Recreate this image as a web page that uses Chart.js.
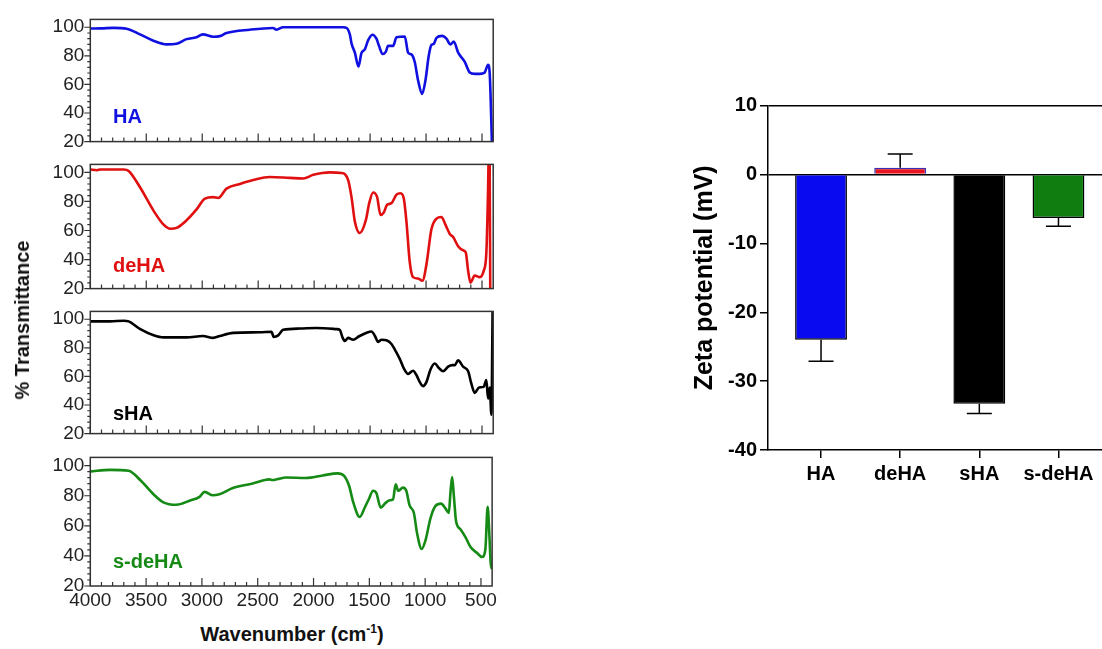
<!DOCTYPE html>
<html>
<head>
<meta charset="utf-8">
<script src="https://cdn.jsdelivr.net/npm/chart.js@4.4.1/dist/chart.umd.min.js"></script>
<style>
  body { margin: 0; background: #fff; }
  #page { position: relative; width: 1102px; height: 649px; overflow: hidden; font-family: "Liberation Sans", Arial, sans-serif; }
  canvas { position: absolute; }
  .lbl { position: absolute; font-weight: bold; line-height: 1; white-space: nowrap; }
</style>
</head>
<body>
<div id="page">
  <div class="lbl" style="left:113px; top:106px; font-size:20px; color:#1010e0">HA</div>
  <div class="lbl" style="left:113px; top:255px; font-size:20px; color:#e01010">deHA</div>
  <div class="lbl" style="left:113px; top:403px; font-size:20px; color:#000">sHA</div>
  <div class="lbl" style="left:113px; top:551px; font-size:20px; color:#158a15">s-deHA</div>
  <div class="lbl" style="left:22px; top:320px; font-size:20px; color:#111; transform:translate(-50%,-50%) rotate(-90deg)">% Transmittance</div>
  <div class="lbl" style="left:292px; top:623px; font-size:20px; color:#111; transform:translateX(-50%)">Wavenumber (cm<sup style="font-size:12px">-1</sup>)</div>
</div>
<script>
// FTIR spectra (wavenumber in cm-1, % transmittance)
const haWave = [4000, 3900, 3794, 3675, 3556, 3437, 3318, 3229, 3140, 3051, 2994, 2902, 2843, 2783, 2575, 2367, 2336, 2277, 2100, 1900, 1741, 1711, 1681, 1666, 1636, 1604, 1577, 1547, 1517, 1479, 1443, 1419, 1389, 1360, 1339, 1294, 1264, 1190, 1160, 1131, 1101, 1071, 1035, 1005, 976, 952, 931, 907, 857, 818, 782, 752, 714, 654, 610, 565, 520, 476, 446, 431, 410];
const haT = [99.1, 99.2, 99.6, 99, 95, 90.6, 88, 88.5, 91.7, 93, 95, 93.4, 93.8, 96, 98.3, 99.5, 98.3, 100, 100, 100, 100, 99.6, 95, 88.7, 82.2, 72.5, 82, 84.5, 91, 94.8, 92, 86.7, 81.3, 82.8, 87, 87, 93, 93.5, 82.2, 81, 75.7, 62.8, 53.4, 63, 80, 87.7, 88.4, 92.6, 94, 92, 88, 90, 82.4, 75.8, 68.4, 67.4, 67.4, 68.4, 73.7, 67.4, 15];

const deHaWave = [4000, 3940, 3911, 3702, 3657, 3553, 3434, 3345, 3285, 3229, 3140, 3051, 2976, 2902, 2857, 2783, 2664, 2545, 2396, 2218, 2098, 2008, 1860, 1756, 1696, 1666, 1636, 1592, 1538, 1508, 1473, 1437, 1407, 1378, 1348, 1309, 1264, 1229, 1199, 1175, 1146, 1116, 1071, 1032, 997, 952, 907, 862, 827, 788, 758, 714, 669, 645, 624, 603, 565, 520, 485, 461, 446, 440, 432, 426];
const deHaT = [102, 101.5, 102, 102, 101, 89.4, 73.5, 64, 61.2, 61.8, 67, 74.5, 82, 83, 82.4, 88.8, 92, 94.7, 96.8, 96.2, 95.8, 98.3, 100, 99.6, 94.7, 83, 66.1, 58.3, 67.1, 78.8, 86.2, 83, 70.7, 72.4, 77.7, 78.8, 84.7, 85.6, 82, 66, 38.5, 27.9, 26.9, 25.4, 36.4, 60.8, 68.2, 69.3, 64, 57.6, 55.5, 49.2, 46.4, 44.9, 32.2, 24.1, 29, 27.9, 32.2, 44.9, 87.3, 112, 112, 10];

const sHaWave = [4000, 3822, 3702, 3657, 3553, 3434, 3345, 3140, 2994, 2902, 2843, 2723, 2485, 2381, 2361, 2321, 2277, 2128, 1980, 1800, 1770, 1747, 1726, 1696, 1651, 1598, 1526, 1488, 1458, 1428, 1398, 1354, 1309, 1279, 1235, 1199, 1160, 1116, 1086, 1056, 1027, 997, 961, 922, 883, 848, 803, 764, 743, 714, 669, 624, 595, 565, 526, 485, 461, 446, 431, 416, 405];
const sHaT = [98.5, 98.5, 99, 98.5, 93.1, 88.8, 87.3, 87.3, 88.3, 87, 88.3, 90.5, 90.9, 91.3, 87.6, 88.7, 92.6, 93.5, 93.9, 93.1, 92.5, 87.4, 84.8, 87, 85.7, 88.1, 90.7, 91.4, 88.5, 84.2, 85.7, 85.3, 82.7, 78.8, 72.3, 65.7, 61.8, 64, 61, 56, 53.2, 56, 64.7, 69, 65.7, 63.6, 66.8, 67.9, 67.9, 71.2, 66.8, 63.6, 54.9, 48.4, 52.3, 52.7, 57.5, 44.5, 52.3, 33.3, 110];

const sDeHaWave = [4000, 3822, 3657, 3553, 3434, 3345, 3229, 3110, 3021, 2976, 2902, 2843, 2723, 2545, 2396, 2367, 2321, 2247, 2068, 1919, 1785, 1726, 1681, 1645, 1586, 1538, 1503, 1467, 1437, 1398, 1360, 1324, 1288, 1264, 1241, 1199, 1169, 1140, 1101, 1071, 1032, 997, 952, 907, 857, 818, 788, 773, 758, 743, 723, 684, 639, 595, 535, 490, 461, 440, 425, 413, 401];
const sDeHaT = [96.2, 97.2, 96.6, 90.5, 81, 75.6, 74, 76.7, 79.3, 82.6, 80.3, 81, 85.1, 88.1, 90.9, 90.5, 91.1, 92.1, 91.8, 93.5, 94.9, 93.2, 86.5, 75.9, 65.9, 72.7, 78, 83.3, 81.8, 72.1, 74.8, 76.9, 77.6, 87.6, 83.3, 85.4, 83.3, 73.8, 68.5, 54.6, 44.6, 50.3, 65.2, 73.3, 74.8, 71.6, 68.5, 82.3, 92.4, 80.1, 63.1, 57.8, 52.5, 46.1, 41.9, 39.3, 44, 72.7, 54.6, 35.4, 31.2];

// tick labels
const waveTicks = [4000, 3500, 3000, 2500, 2000, 1500, 1000, 500];
const transTicks = [20, 40, 60, 80, 100];

// Zeta potential (mV)
const samples = ['HA', 'deHA', 'sHA', 's-deHA'];
const zeta = [-24.0, 1.0, -33.3, -6.3];
const zetaErr = [3.1, 2.0, 1.4, 1.2];
const zetaTicks = [10, 0, -10, -20, -30, -40];

Chart.defaults.font.family = '"Liberation Sans", Arial, sans-serif';
Chart.defaults.animation = false;

const page = document.getElementById('page');

function addCanvas(left, top, w, h) {
    const c = document.createElement('canvas');
    c.width = w;
    c.height = h;
    c.style.left = left + 'px';
    c.style.top = top + 'px';
    page.prepend(c);
    return c;
}

// box + inward x ticks + outward y ticks, like the original plot
const framePlugin = {
    id: 'frame',
    afterDraw(chart) {
        const { ctx, chartArea: a, scales: { x, y } } = chart;
        ctx.save();
        ctx.strokeStyle = '#333';
        ctx.lineWidth = 1.5;
        ctx.strokeRect(a.left, a.top, a.right - a.left, a.bottom - a.top);
        ctx.lineWidth = 1.2;
        ctx.beginPath();
        for (let v = 4000; v > x.min + 50; v -= 100) {
            const px = x.getPixelForValue(v);
            const len = v % 500 === 0 ? 8 : 4;
            ctx.moveTo(px, a.bottom);
            ctx.lineTo(px, a.bottom - len);
        }
        for (let v = 20; v <= 100; v += 4) {
            const py = y.getPixelForValue(v);
            const len = v % 20 === 0 ? 6 : 3;
            ctx.moveTo(a.left, py);
            ctx.lineTo(a.left - len, py);
        }
        ctx.stroke();
        ctx.restore();
    }
};

// panel boxes on the page
const panels = [
    { top: 14, h: 133 },
    { top: 159, h: 135 },
    { top: 306, h: 133 },
    { top: 452, h: 134 }
];

function makeSpectrum(i, wave, trans, color) {
    const p = panels[i];
    const last = i === panels.length - 1;
    const h = last ? p.h + 12 + 32 : p.h + 24;
    const canvas = addCanvas(0, p.top - 12, 500, h);

    new Chart(canvas, {
        type: 'line',
        data: {
            datasets: [{
                data: wave.map((w, k) => ({ x: w, y: trans[k] })),
                borderColor: color,
                borderWidth: 2.6,
                pointRadius: 0,
                cubicInterpolationMode: 'monotone',
                clip: 0
            }]
        },
        options: {
            responsive: false,
            layout: { padding: { top: 12, right: 6.8, bottom: last ? 0 : 12 } },
            plugins: { legend: { display: false }, tooltip: { enabled: false } },
            scales: {
                x: {
                    type: 'linear',
                    reverse: true,
                    min: 400,
                    max: 4000,
                    display: last,
                    afterBuildTicks: s => { s.ticks = waveTicks.map(v => ({ value: v })); },
                    afterFit: s => { s.height = last ? 32 : 0; },
                    ticks: {
                        callback: v => String(v),
                        font: { size: 19 }, color: '#222', padding: 3, maxRotation: 0, autoSkip: false
                    },
                    grid: { display: false, drawTicks: false },
                    border: { display: false }
                },
                y: {
                    min: 20,
                    max: 105.5,
                    afterBuildTicks: s => { s.ticks = transTicks.map(v => ({ value: v })); },
                    afterFit: s => { s.width = 90.3; },
                    ticks: { font: { size: 19 }, color: '#222', padding: 6, autoSkip: false },
                    grid: { display: false, drawTicks: false },
                    border: { display: false }
                }
            }
        },
        plugins: [framePlugin]
    });
}

makeSpectrum(0, haWave, haT, '#1010e0');
makeSpectrum(1, deHaWave, deHaT, '#e01010');
makeSpectrum(2, sHaWave, sHaT, '#000000');
makeSpectrum(3, sDeHaWave, sDeHaT, '#158a15');

// one-sided error bars, pointing away from zero
const errorBars = {
    id: 'errorBars',
    afterDatasetsDraw(chart) {
        const { ctx, scales: { y } } = chart;
        const meta = chart.getDatasetMeta(0);
        ctx.save();
        ctx.strokeStyle = '#000';
        ctx.lineWidth = 1.5;
        meta.data.forEach((bar, i) => {
            const end = zeta[i] + Math.sign(zeta[i]) * zetaErr[i];
            const y0 = y.getPixelForValue(zeta[i]);
            const y1 = y.getPixelForValue(end);
            ctx.beginPath();
            ctx.moveTo(bar.x, y0);
            ctx.lineTo(bar.x, y1);
            ctx.moveTo(bar.x - 12.5, y1);
            ctx.lineTo(bar.x + 12.5, y1);
            ctx.stroke();
        });
        ctx.restore();
    }
};

const zetaCanvas = addCanvas(680, 90, 422, 400);
new Chart(zetaCanvas, {
    type: 'bar',
    data: {
        datasets: [{
            data: samples.map((s, i) => ({ x: i + 1, y: zeta[i] })),
            backgroundColor: ['#0a0af0', '#e8141e', '#000000', '#0f7d0f'],
            borderColor: ['#000', '#3a2fb0', '#000', '#000'],
            borderWidth: 1.5,
            barPercentage: 0.655,
            categoryPercentage: 1
        }]
    },
    options: {
        responsive: false,
        layout: { padding: { top: 15.7, right: 0, left: 0, bottom: 0 } },
        plugins: { legend: { display: false }, tooltip: { enabled: false } },
        scales: {
            x: {
                type: 'linear',
                offset: false,
                min: 0.33,
                max: 4.55,
                afterBuildTicks: s => { s.ticks = samples.map((_, i) => ({ value: i + 1 })); },
                afterFit: s => { s.height = 40; },
                ticks: {
                    callback: v => samples[v - 1],
                    font: { size: 20, weight: 'bold' },
                    color: '#000',
                    padding: 4,
                    maxRotation: 0,
                    autoSkip: false
                },
                grid: { drawOnChartArea: false, offset: false, tickLength: 8, color: '#000', lineWidth: 1.5 },
                border: { color: '#000', width: 1.5 }
            },
            y: {
                min: -40,
                max: 10,
                afterBuildTicks: s => { s.ticks = zetaTicks.map(v => ({ value: v })); },
                afterFit: s => { s.width = 88; },
                ticks: { font: { size: 20, weight: 'bold' }, color: '#000', padding: 3 },
                grid: {
                    color: c => (c.tick.value === 0 || c.tick.value === 10) ? '#000' : 'rgba(0,0,0,0)',
                    tickColor: '#000',
                    lineWidth: 1.5,
                    tickLength: 8
                },
                border: { color: '#000', width: 1.5 },
                title: {
                    display: true,
                    text: 'Zeta potential (mV)',
                    font: { size: 25, weight: 'bold' },
                    color: '#000',
                    padding: { top: 10, bottom: 0 }
                }
            }
        }
    },
    plugins: [errorBars]
});
</script>
</body>
</html>
